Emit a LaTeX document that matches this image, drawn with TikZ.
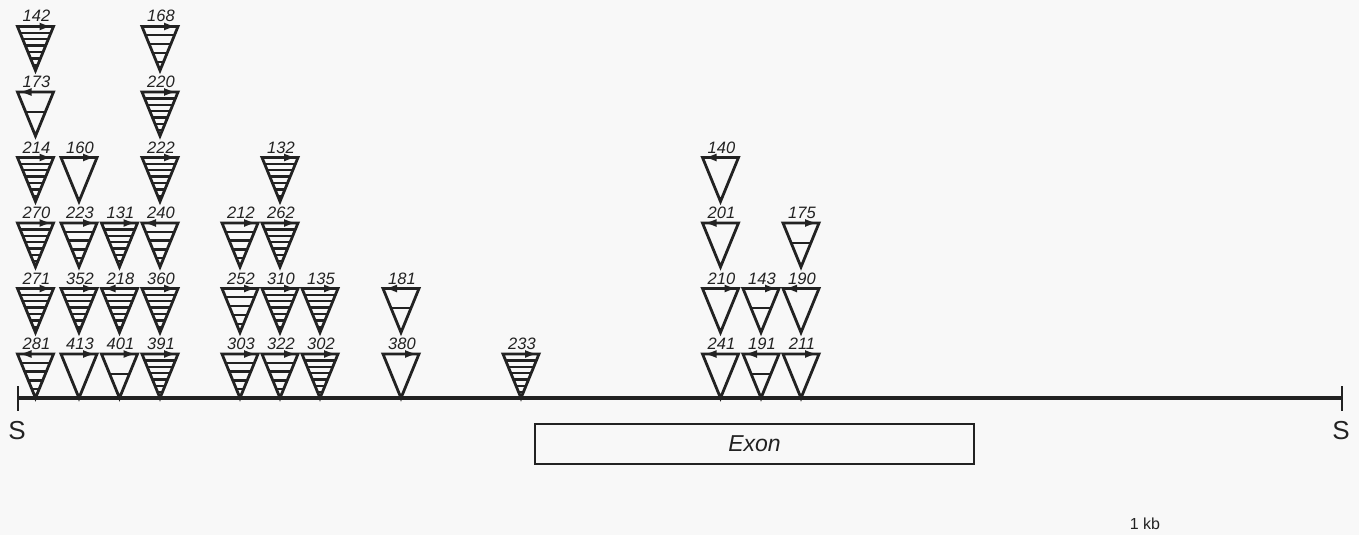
\documentclass[tikz,border=0pt]{standalone}
\usepackage{fontspec}
\setmainfont{Liberation Sans}
\usetikzlibrary{arrows.meta}

\definecolor{ink}{HTML}{222222}
\definecolor{paper}{HTML}{F8F8F8}

% stripe fractions (depth below the top edge, as part of the height)
\def\patD{0.145,0.29,0.435,0.58,0.725,0.87}
\def\patM{0.2,0.4,0.6,0.8}
\def\patH{0.45}
\def\patN{0}

\tikzset{
  tri/.style={draw=ink, line width=2.8pt, line join=miter},
  stripe/.style={draw=ink, line width=2.3pt, line cap=butt},
  dirarrow/.style={draw=ink, line width=1.8pt, -{Latex[length=12pt,width=8pt]}},
  lbl/.style={font=\fontsize{16.5}{16.5}\selectfont\itshape, text=ink, inner sep=0pt, anchor=base},
  big/.style={font=\fontsize{26}{26}\selectfont, text=ink, inner sep=0pt},
}

% \insertion{x}{row}{label}{stripe list}{r|l}
\newcommand\insertion[5]{%
  \pgfmathsetmacro\tp{354-65.5*#2}%
  \pgfmathsetmacro\bt{\tp+44}%
  \coordinate (t#3) at (#1,\bt);
  \draw[tri] (#1-18,\tp) -- (#1+18,\tp) -- (t#3) -- cycle;
  \foreach \f in #4 {%
    \pgfmathsetmacro\yy{\tp+44*\f}%
    \pgfmathsetmacro\hw{18*(1-\f)}%
    \draw[stripe] (#1-\hw,\yy) -- (#1+\hw,\yy);
  }
  \if r#5
    \draw[dirarrow] (#1-17,\tp) -- (#1+16,\tp);
  \else
    \draw[dirarrow] (#1+17,\tp) -- (#1-16,\tp);
  \fi
  \node[lbl] (l#3) at (#1+1,\tp-4.5) {#3};
}

\begin{document}
\begin{tikzpicture}[x=1pt,y=-1pt]
  \fill[paper] (0,0) rectangle (1359,535);
  \useasboundingbox (0,0) rectangle (1359,535);

  % map line with the two S sites
  \coordinate (sL) at (18,398);
  \coordinate (sR) at (1342,398);
  \draw[ink, line width=4.2pt] (sL) -- (sR);
  \draw[ink, line width=2.4pt] (18,386) -- (18,411);
  \draw[ink, line width=2.4pt] (1342,386) -- (1342,411);
  \node[big] (S1) at (17,431) {S};
  \node[big] (S2) at (1341,431) {S};

  % exon box
  \node[draw=ink, line width=2.4pt, minimum width=439pt, minimum height=40pt,
        inner sep=0pt, font=\fontsize{23}{23}\selectfont\itshape, text=ink]
        (exon) at (754.5,444) {Exon};

  % scale label
  \node[font=\fontsize{16}{16}\selectfont, text=ink, inner sep=0pt] (kb) at (1145,524) {1 kb};

  % insertions, column by column (row 0 sits on the line)
  \insertion{35.5}{0}{281}{\patM}{l}
  \insertion{35.5}{1}{271}{\patD}{r}
  \insertion{35.5}{2}{270}{\patD}{r}
  \insertion{35.5}{3}{214}{\patD}{r}
  \insertion{35.5}{4}{173}{\patH}{l}
  \insertion{35.5}{5}{142}{\patD}{r}

  \insertion{79}{0}{413}{\patN}{r}
  \insertion{79}{1}{352}{\patD}{r}
  \insertion{79}{2}{223}{\patM}{r}
  \insertion{79}{3}{160}{\patN}{r}

  \insertion{119.5}{0}{401}{\patH}{r}
  \insertion{119.5}{1}{218}{\patD}{l}
  \insertion{119.5}{2}{131}{\patD}{r}

  \insertion{160}{0}{391}{\patD}{r}
  \insertion{160}{1}{360}{\patD}{r}
  \insertion{160}{2}{240}{\patM}{l}
  \insertion{160}{3}{222}{\patD}{r}
  \insertion{160}{4}{220}{\patD}{r}
  \insertion{160}{5}{168}{\patM}{r}

  \insertion{240}{0}{303}{\patM}{r}
  \insertion{240}{1}{252}{\patM}{r}
  \insertion{240}{2}{212}{\patM}{r}

  \insertion{280}{0}{322}{\patM}{r}
  \insertion{280}{1}{310}{\patD}{r}
  \insertion{280}{2}{262}{\patD}{r}
  \insertion{280}{3}{132}{\patD}{r}

  \insertion{320}{0}{302}{\patD}{r}
  \insertion{320}{1}{135}{\patD}{r}

  \insertion{401}{0}{380}{\patN}{r}
  \insertion{401}{1}{181}{\patH}{l}

  \insertion{521}{0}{233}{\patD}{r}

  \insertion{720.5}{0}{241}{\patN}{l}
  \insertion{720.5}{1}{210}{\patN}{r}
  \insertion{720.5}{2}{201}{\patN}{l}
  \insertion{720.5}{3}{140}{\patN}{l}

  \insertion{761}{0}{191}{\patH}{l}
  \insertion{761}{1}{143}{\patH}{r}

  \insertion{801}{0}{211}{\patN}{r}
  \insertion{801}{1}{190}{\patN}{l}
  \insertion{801}{2}{175}{\patH}{r}
\end{tikzpicture}
\end{document}
